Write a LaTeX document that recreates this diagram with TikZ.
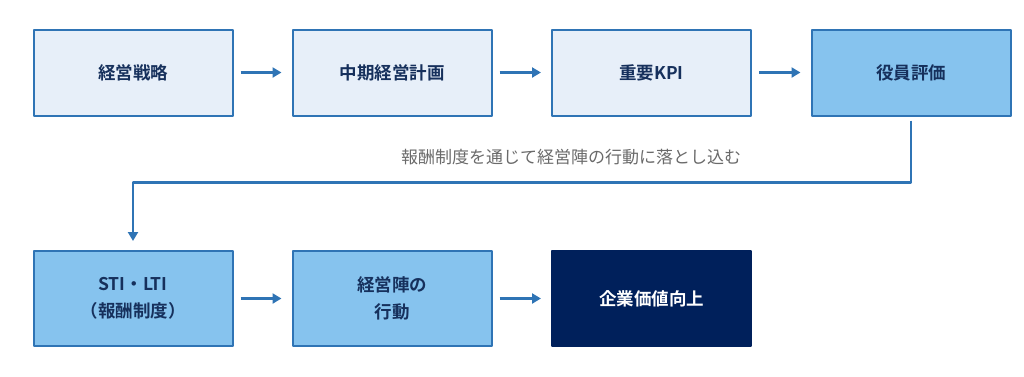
\documentclass[tikz,border=0pt]{standalone}
\usepackage{fontspec}
\setmainfont{Noto Sans CJK JP}[BoldFont={* Bold}]
\usetikzlibrary{arrows.meta}
\definecolor{lineblue}{HTML}{2F74B5}
\definecolor{paleblue}{HTML}{E7EFF9}
\definecolor{midblue}{HTML}{86C3EE}
\definecolor{navy}{HTML}{00205B}
\definecolor{textnavy}{HTML}{16305C}
\definecolor{notegray}{HTML}{6A6A6A}
\begin{document}
\begin{tikzpicture}[x=1pt, y=-1pt, line join=round, font=\fontsize{17.5}{27}\selectfont\bfseries,
    stagebox/.style={draw=lineblue, line width=2pt, minimum width=199pt, text=textnavy, align=center, inner sep=0pt},
    plain/.style={stagebox, fill=paleblue, minimum height=86pt},
    keyed/.style={stagebox, fill=midblue},
    goal/.style={stagebox, fill=navy, draw=navy, text=white, minimum height=95pt},
    flow/.style={draw=lineblue, line width=2.8pt, -{Triangle[length=9pt, width=10pt]}, shorten <=7pt, shorten >=10pt}]
		\useasboundingbox (0,0) rectangle (1024,376);
		% Upper row: strategy chain
		\node[plain] (strategy) at (133, 72.5) {経営戦略};
		\node[plain] (midplan) at (392, 72.5) {中期経営計画};
		\node[plain] (kpi) at (651.5, 72.5) {重要KPI};
		\node[keyed, minimum height=86pt] (review) at (911, 72.5) {役員評価};
		% Lower row: incentives and outcome
		\node[keyed, minimum height=95pt] (pay) at (133, 298.5) {STI・LTI\\（報酬制度）};
		\node[keyed, minimum height=95pt] (action) at (392, 298.5) {経営陣の\\行動};
		\node[goal] (value) at (651.5, 298.5) {企業価値向上};
		% Arrows between boxes
		\draw[flow] (strategy) -- (midplan);
		\draw[flow] (midplan) -- (kpi);
		\draw[flow] (kpi) -- (review);
		\draw[flow] (pay) -- (action);
		\draw[flow] (action) -- (value);
		% Feedback path down to the pay scheme
		\draw[flow, shorten <=4pt, shorten >=9pt] (review.south) -- ++(0,66) -| (pay.north);
		\node[font=\fontsize{17}{20}\selectfont, text=notegray] (note) at (571, 157) {報酬制度を通じて経営陣の行動に落とし込む};
	\end{tikzpicture}
\end{document}
